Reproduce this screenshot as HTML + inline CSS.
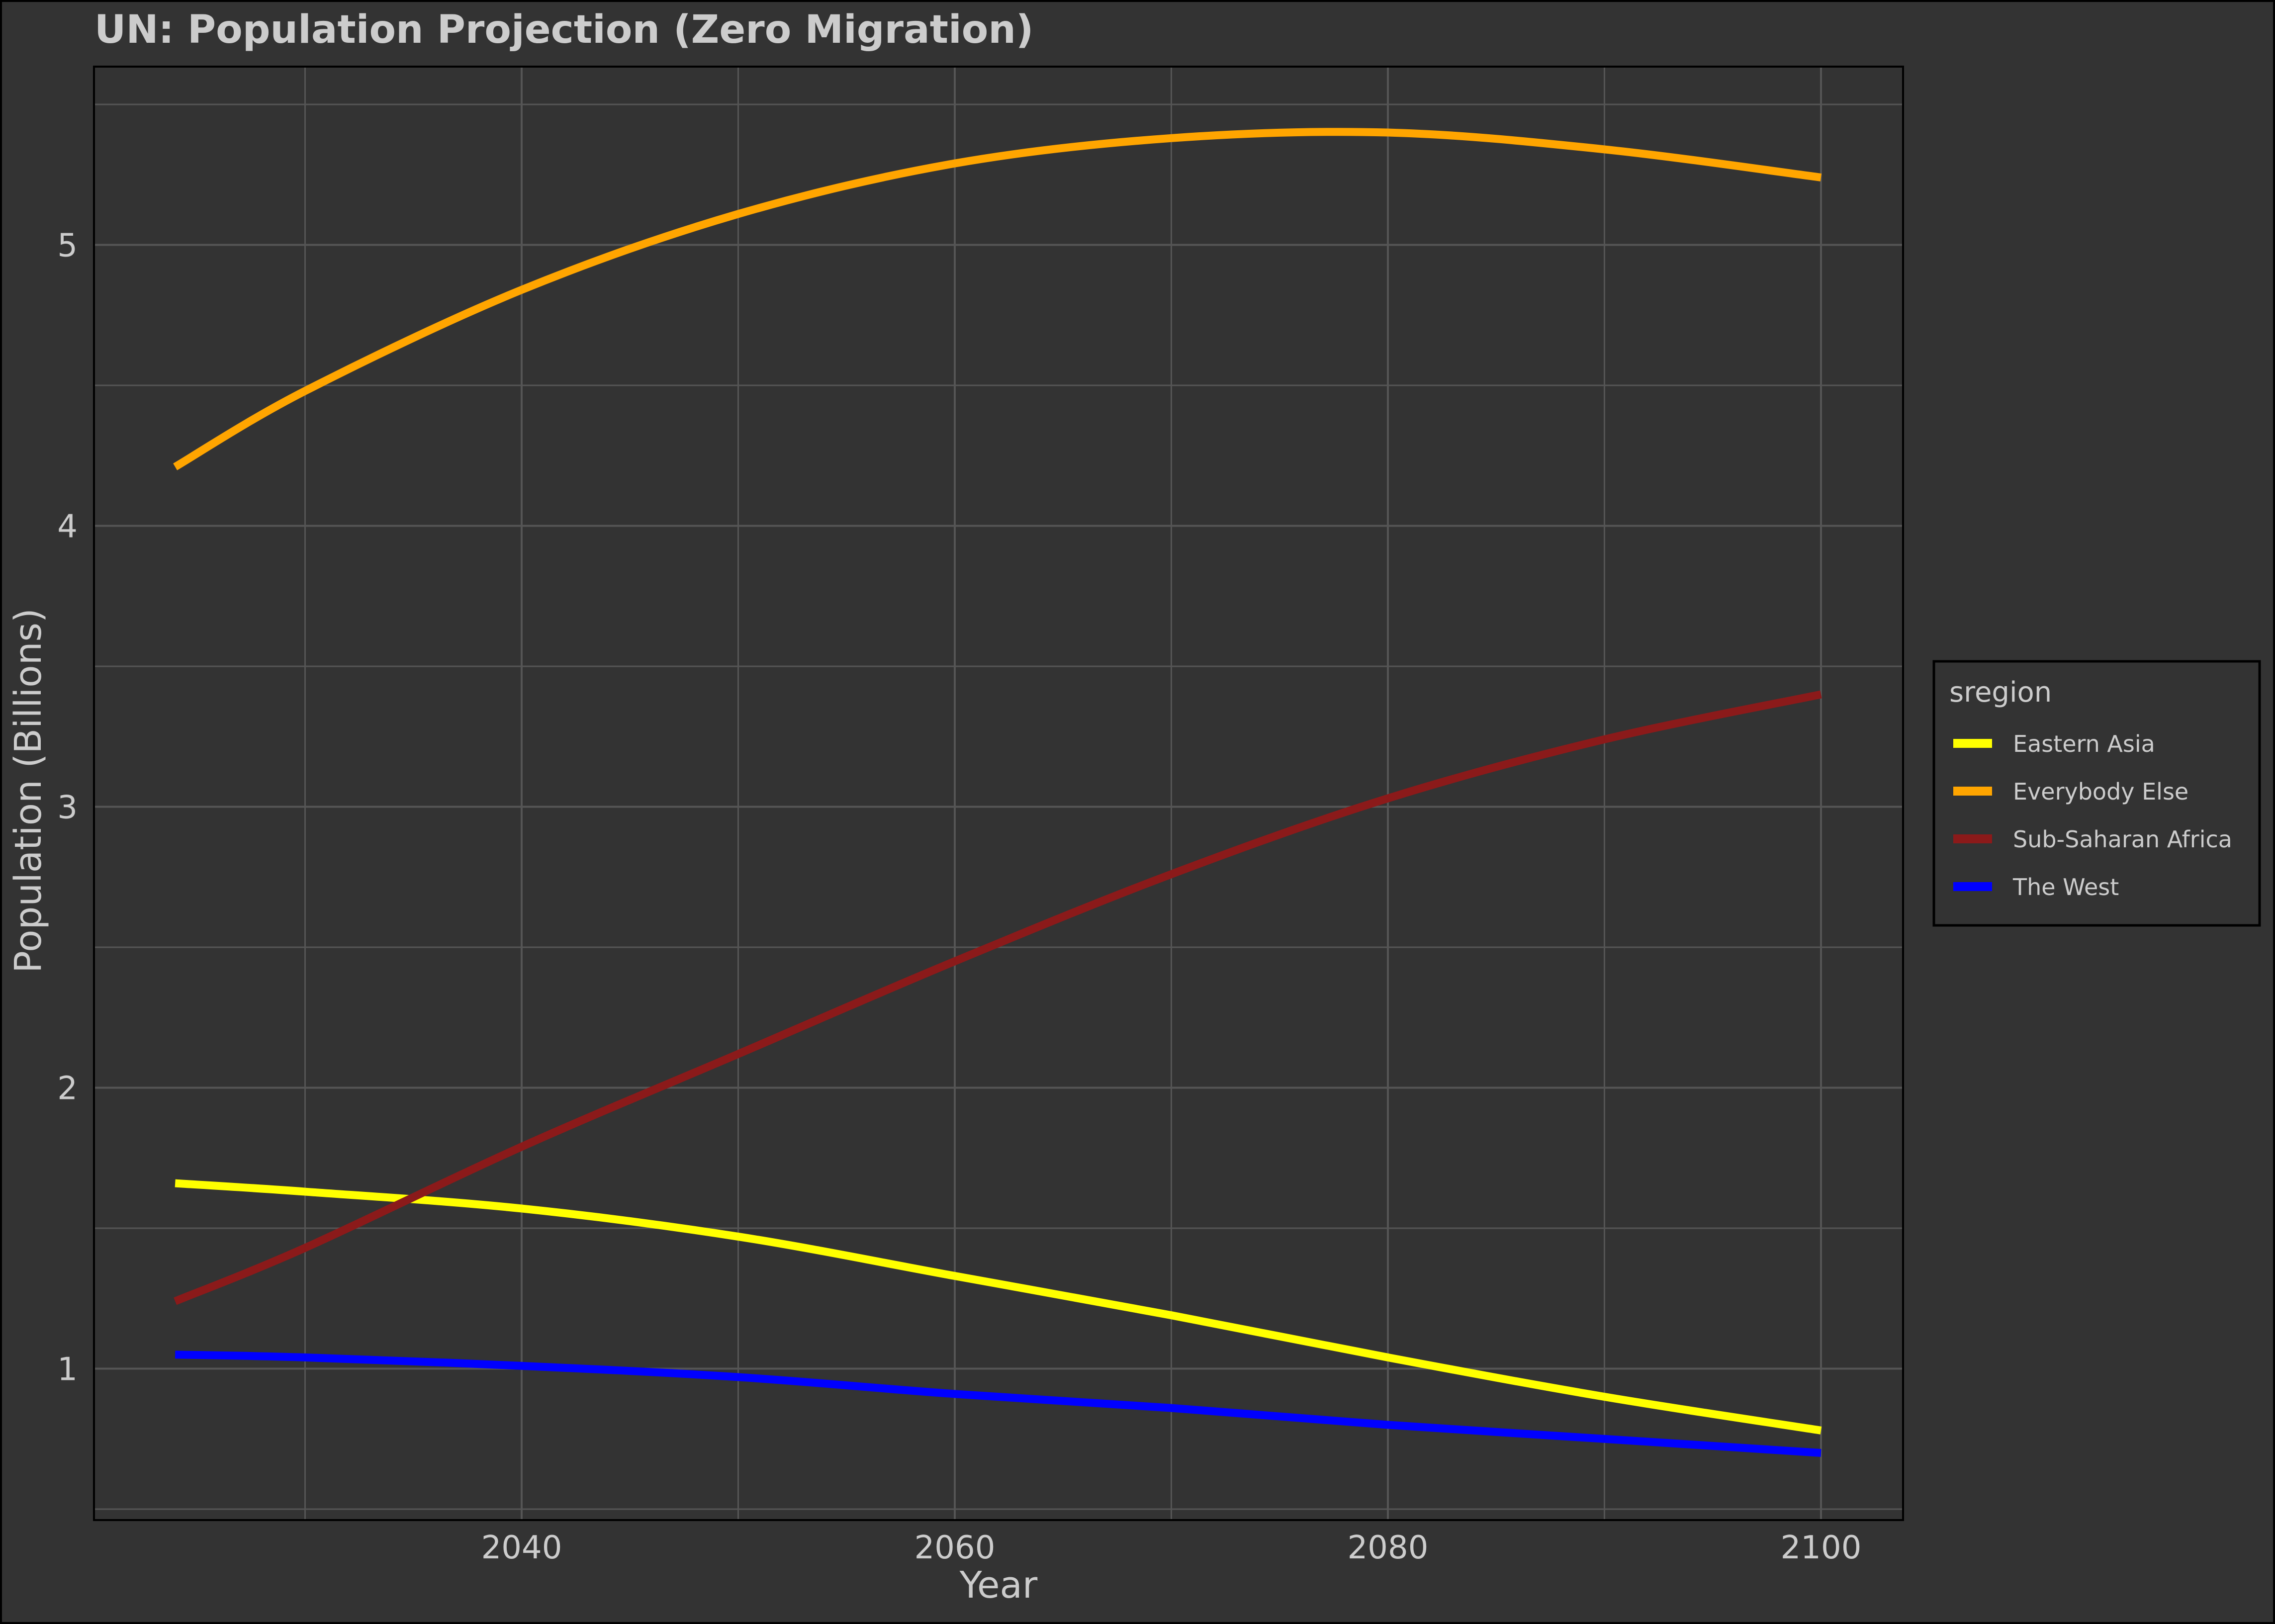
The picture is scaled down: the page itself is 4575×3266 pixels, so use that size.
<!DOCTYPE html>
<html><head><meta charset="utf-8"><style>
html,body{margin:0;padding:0;background:#333333;}
svg{display:block;font-family:"DejaVu Sans","Liberation Sans",sans-serif;}
</style></head><body>
<svg id="chart" xmlns="http://www.w3.org/2000/svg" width="4575" height="3266" viewBox="0 0 4575 3266">
<rect x="2" y="2" width="4571" height="3262" fill="#333333" stroke="#000" stroke-width="4"/>
<text x="190" y="86" font-size="78" font-weight="bold" fill="#cccccc">UN: Population Projection (Zero Migration)</text>
<g id="grid"></g>
<g id="series"></g>
<rect x="189" y="134" width="3638" height="2923" fill="none" stroke="#000" stroke-width="4"/>
<g id="ticks"></g>
<text x="2008" y="3213" font-size="74" fill="#cccccc" text-anchor="middle">Year</text>
<text transform="translate(82,1590) rotate(-90)" font-size="74" fill="#cccccc" text-anchor="middle">Population (Billions)</text>
<g>
<rect x="3889" y="1330" width="655" height="531" fill="#333333" stroke="#000" stroke-width="5"/>
<text x="3920" y="1411" font-size="56" fill="#cccccc">sregion</text>
<g id="legend-entries"></g>
</g>
</svg>
<script>
const years = [2024, 2030, 2040, 2050, 2060, 2070, 2080, 2090, 2100];
const seriesNames = ["Eastern Asia", "Everybody Else", "Sub-Saharan Africa", "The West"];
const easternAsia = [1.66, 1.63, 1.57, 1.47, 1.33, 1.19, 1.04, 0.90, 0.78];
const everybodyElse = [4.21, 4.48, 4.84, 5.11, 5.29, 5.38, 5.40, 5.34, 5.24];
const subSaharanAfrica = [1.24, 1.43, 1.79, 2.12, 2.45, 2.76, 3.03, 3.24, 3.40];
const theWest = [1.05, 1.04, 1.01, 0.97, 0.91, 0.86, 0.80, 0.75, 0.70];
const seriesColors = ["#ffff00", "#ffa500", "#8b1a1a", "#0000ff"];
const xTicks = [2040, 2060, 2080, 2100];
const xMinor = [2030, 2050, 2070, 2090];
const yTicks = [1, 2, 3, 4, 5];
const yMinor = [0.5, 1.5, 2.5, 3.5, 4.5, 5.5];

const NS = "http://www.w3.org/2000/svg";
const P = {l:189, r:3827, t:134, b:3057};
function xs(v){ return 1049 + (v - 2040) * 43.55; }
function ys(v){ return 492.5 - (v - 5) * 565; }
function mk(tag, attrs, parent){ const e=document.createElementNS(NS, tag); for(const k in attrs) e.setAttribute(k, attrs[k]); parent.appendChild(e); return e; }

const grid = document.getElementById("grid");
mk("rect",{x:P.l,y:P.t,width:P.r-P.l,height:P.b-P.t,fill:"#333333"},grid);
yMinor.forEach(v=>{ const l=mk("line",{x1:P.l,x2:P.r,y1:ys(v),y2:ys(v),stroke:"#555555","stroke-width":3},grid);

 });
xMinor.forEach(v=>{ const l=mk("line",{x1:xs(v),x2:xs(v),y1:P.t,y2:P.b,stroke:"#555555","stroke-width":3},grid);

 });
yTicks.forEach(v=>{ const l=mk("line",{x1:P.l,x2:P.r,y1:ys(v),y2:ys(v),stroke:"#555555","stroke-width":4},grid);

 });
xTicks.forEach(v=>{ const l=mk("line",{x1:xs(v),x2:xs(v),y1:P.t,y2:P.b,stroke:"#555555","stroke-width":4},grid);

 });

const ticks = document.getElementById("ticks");
yTicks.forEach(v=>{ const t=mk("text",{x:156,y:ys(v)+23,"font-size":64,fill:"#cccccc","text-anchor":"end"},ticks); t.textContent=String(v);

 });
xTicks.forEach(v=>{ const t=mk("text",{x:xs(v),y:3134,"font-size":64,fill:"#cccccc","text-anchor":"middle"},ticks); t.textContent=String(v);

 });

function smoothPath(pts){
  let d = "M"+pts[0][0]+","+pts[0][1];
  for(let i=0;i<pts.length-1;i++){
    const p0=pts[Math.max(0,i-1)], p1=pts[i], p2=pts[i+1], p3=pts[Math.min(pts.length-1,i+2)];
    const c1=[p1[0]+(p2[0]-p0[0])/6, p1[1]+(p2[1]-p0[1])/6];
    const c2=[p2[0]-(p3[0]-p1[0])/6, p2[1]-(p3[1]-p1[1])/6];
    d += " C"+c1[0]+","+c1[1]+" "+c2[0]+","+c2[1]+" "+p2[0]+","+p2[1];
  }
  return d;
}
const allSeries = [easternAsia, everybodyElse, subSaharanAfrica, theWest];
const slugs = ["eastern-asia","everybody-else","sub-saharan-africa","the-west"];
const sg = document.getElementById("series");
allSeries.forEach((vals,i)=>{
  const pts = years.map((y,j)=>[xs(y), ys(vals[j])]);
  const p = mk("path",{d:smoothPath(pts),fill:"none",stroke:seriesColors[i],"stroke-width":16},sg);
  
  
});

const lg = document.getElementById("legend-entries");
seriesNames.forEach((n,i)=>{
  const cy = 1495 + i*96;
  const r = mk("rect",{x:3928,y:cy-9,width:78,height:18,fill:seriesColors[i]},lg);
  
  
  const t = mk("text",{x:4048,y:cy+17,"font-size":46,fill:"#cccccc"},lg);
  t.textContent = n;
  
  
});
</script>
</body></html>
